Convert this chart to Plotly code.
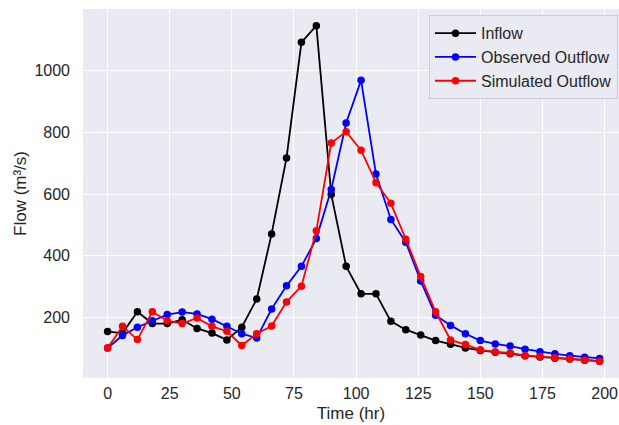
import plotly.graph_objects as go

time_hr = [0, 6, 12, 18, 24, 30, 36, 42, 48, 54, 60, 66, 72, 78, 84, 90, 96, 102,
           108, 114, 120, 126, 132, 138, 144, 150, 156, 162, 168, 174, 180, 186, 192, 198]

inflow = [155, 150, 219, 181, 181, 193, 165, 150, 128, 169, 260, 471, 717, 1091, 1145,
          599, 366, 277, 277, 188, 161, 144, 126, 114, 102, 94, 88, 83, 77, 73, 69, 66, 62, 59]

observed_outflow = [102, 142, 169, 190, 210, 218, 212, 195, 172, 148, 134, 228, 303, 366,
                    456, 615, 830, 968, 665, 518, 444, 319, 208, 175, 148, 126, 115, 108,
                    98, 90, 83, 77, 72, 68]

simulated_outflow = [102, 172, 129, 219, 190, 181, 199, 172, 156, 110, 148, 173, 251, 302,
                     481, 765, 802, 742, 637, 570, 454, 333, 219, 128, 113, 96, 89, 86,
                     77, 74, 70, 67, 63, 59]

x_ticks = [0, 25, 50, 75, 100, 125, 150, 175, 200]
y_ticks = [200, 400, 600, 800, 1000]

series = [
    ("Inflow", inflow, "black"),
    ("Observed Outflow", observed_outflow, "blue"),
    ("Simulated Outflow", simulated_outflow, "red"),
]

fig = go.Figure()
for name, vals, color in series:
    fig.add_trace(go.Scatter(
        x=time_hr, y=vals, name=name, mode="lines+markers",
        line=dict(color=color, width=1.8),
        marker=dict(color=color, size=7.5),
    ))

font_family = "Liberation Sans, Arial, sans-serif"
text_color = "#262626"

fig.update_layout(
    width=619, height=425,
    margin=dict(l=83, r=0, t=9, b=47, autoexpand=False),
    paper_bgcolor="white",
    plot_bgcolor="#EAEAF2",
    font=dict(family=font_family, size=16, color=text_color),
    showlegend=True,
    legend=dict(
        x=0.6455, y=0.983, xanchor="left", yanchor="top",
        bgcolor="rgba(234,234,242,0.8)",
        bordercolor="#CCCCD4", borderwidth=1,
        font=dict(size=16, color=text_color),
        tracegroupgap=0, itemwidth=41,
    ),
    xaxis=dict(
        range=[-9.9, 205.8],
        tickvals=x_ticks,
        showgrid=True, gridcolor="white", gridwidth=1,
        zeroline=False, showline=False, automargin=False,
        ticks="", ticklabelstandoff=4,
        tickfont=dict(size=16),
        title=dict(text="Time (hr)", font=dict(size=17), standoff=6),
    ),
    yaxis=dict(
        range=[4.7, 1199],
        tickvals=y_ticks,
        showgrid=True, gridcolor="white", gridwidth=1,
        zeroline=False, showline=False, automargin=False,
        ticks="", ticklabelstandoff=12,
        tickfont=dict(size=16),
        title=dict(text="Flow (m³/s)", font=dict(size=17), standoff=3),
    ),
)

# Remove the page's default body margin and scrollbars so the figure fills the window.
page_fix = "document.body.style.margin='0';document.body.style.overflow='hidden';"
fig.write_html("out.html", post_script=page_fix, config={"displayModeBar": False})
